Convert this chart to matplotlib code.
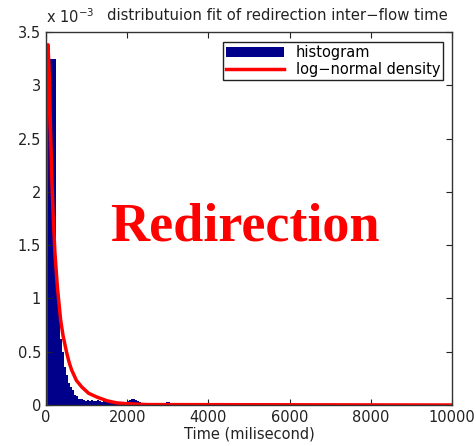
import numpy as np
import matplotlib; matplotlib.use("Agg"); import matplotlib.pyplot as plt
from matplotlib.ticker import FuncFormatter

# histogram, 50 ms bins (density in units of 1e-3)
bin_w = 50
hist_h = [3.30, 3.30, 3.25, 3.25, 3.25, 1.10, 0.90, 0.62, 0.50, 0.36,
          0.28, 0.21, 0.17, 0.14, 0.09, 0.08, 0.06, 0.06, 0.05, 0.04,
          0.05, 0.04, 0.05, 0.04, 0.04, 0.05, 0.04, 0.03, 0.04, 0.03,
          0.03, 0.02, 0.02, 0.02, 0.02, 0.02, 0.02, 0.01, 0.02, 0.01,
          0.04, 0.05, 0.06, 0.06, 0.05, 0.04, 0.03, 0.02, 0.01, 0.01,
          0.00, 0.01, 0.00, 0.00, 0.00, 0.00, 0.00, 0.00, 0.02, 0.03,
          0.03, 0.02, 0.00, 0.01]
# fitted log-normal density
fit_x = [0, 0, 15, 30, 50, 80, 110, 150, 180, 220, 280, 360, 420, 510, 570, 630,
         750, 880, 1050, 1250, 1500, 1740, 2000, 2500, 10000]
fit_y = [0, 1.2, 2.6, 3.3, 3.38, 3.1, 2.6, 2.05, 1.75, 1.43, 1.11, 0.80, 0.65, 0.49, 0.40, 0.33,
         0.23, 0.17, 0.11, 0.075, 0.04, 0.02, 0.012, 0.004, 0.0]

plt.rcParams["font.family"] = "DejaVu Sans"
fig = plt.figure(figsize=(4.77, 4.46), dpi=100)
ax = fig.add_axes([0.0964, 0.0919, 0.8512, 0.8364])

edges = np.arange(len(hist_h)) * bin_w
bars = ax.bar(edges, hist_h, width=bin_w, align="edge", color="#00008B", linewidth=0, label="histogram")
line, = ax.plot(fit_x, fit_y, color="#FF0000", lw=2.5, solid_joinstyle="round", label="log\u2212normal density")

ax.set_xlim(0, 10000); ax.set_ylim(0, 3.5)
ax.set_xticks(np.arange(0, 10001, 2000)); ax.set_yticks(np.arange(0, 3.51, 0.5))
ax.yaxis.set_major_formatter(FuncFormatter(lambda v, p: f"{v:g}"))
ax.tick_params(direction="in", top=True, right=True, length=4, labelsize=10.5, colors="#222222")
for s in ax.spines.values(): s.set_color("#333333"); s.set_linewidth(1.0)

ax.set_xlabel("Time (milisecond)", fontsize=10.5, labelpad=1, color="#222222")
ax.text(0.0, 1.025, r"x 10$^{-3}$", transform=ax.transAxes, fontsize=10.5, color="#222222")
fig.text(277/477, 1 - 15/446, "distributuion fit of redirection inter\u2212flow time",
         ha="center", va="center", fontsize=10.7, color="#222222")

leg = ax.legend(handles=[bars, line], loc="upper right", bbox_to_anchor=(0.985, 0.98), fontsize=10.5,
                fancybox=False, framealpha=1, edgecolor="#222222", borderpad=0.2, handlelength=4.0,
                labelspacing=0.1, borderaxespad=0.2)
leg.get_frame().set_linewidth(1.0)

ax.text(0.49, 0.475, "Redirection", transform=ax.transAxes, ha="center", va="center",
        fontsize=39, fontweight="bold", family="Liberation Serif", color="#FF0000")

fig.savefig("out.png", dpi=100)
